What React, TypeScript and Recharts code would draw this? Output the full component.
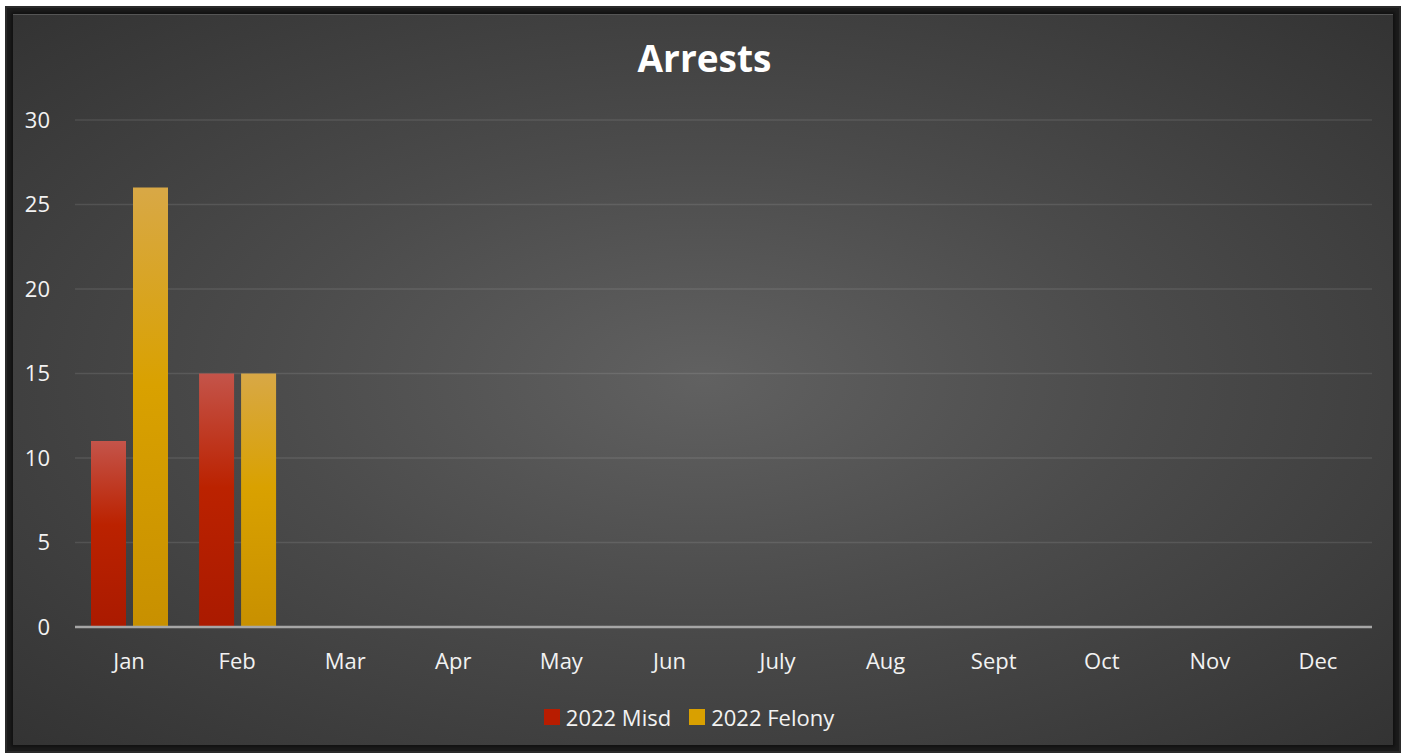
import { BarChart, Bar, XAxis, YAxis, CartesianGrid, Legend } from 'recharts';

const MONTHS = ['Jan', 'Feb', 'Mar', 'Apr', 'May', 'Jun', 'July', 'Aug', 'Sept', 'Oct', 'Nov', 'Dec'];
const MISD = [11, 15, 0, 0, 0, 0, 0, 0, 0, 0, 0, 0];
const FELONY = [26, 15, 0, 0, 0, 0, 0, 0, 0, 0, 0, 0];
const Y_TICKS = [0, 5, 10, 15, 20, 25, 30];

const data = MONTHS.map((m, i) => ({ month: m, misd: MISD[i], felony: FELONY[i] }));

const FONT = '"Open Sans", "Liberation Sans", sans-serif';

const LEGEND_ITEMS = [
  { label: '2022 Misd', color: '#b81c00' },
  { label: '2022 Felony', color: '#d9a000' },
];

function LegendBox() {
  return (
    <div style={{ display: 'flex', justifyContent: 'center', alignItems: 'center', gap: 18, fontFamily: FONT, fontSize: 22, color: '#f2f2f2', height: 53, paddingLeft: 6 }}>
      {LEGEND_ITEMS.map((it) => (
        <span key={it.label} style={{ display: 'flex', alignItems: 'center', gap: 6 }}>
          <span style={{ width: 16, height: 16, background: it.color, display: 'inline-block' }} />
          {it.label}
        </span>
      ))}
    </div>
  );
}

export default function App() {
  return (
    <div style={{ position: 'absolute', left: 0, top: 0, width: 1409, height: 753, background: '#fff', overflow: 'hidden' }}>
      {/* frame */}
      <div
        style={{
          position: 'absolute',
          left: 5,
          top: 6,
          width: 1396,
          height: 747,
          background: '#1c1c1c',
          boxShadow: 'inset 0 0 0 2px #2a2a2a',
        }}
      />
      <div
        style={{
          position: 'absolute',
          left: 13,
          top: 14,
          width: 1380,
          height: 731,
          background: 'radial-gradient(ellipse at 50% 50%, #616161 0%, #4b4b4b 45%, #333 100%)',
          boxShadow: '0 0 3px 2px #111, inset 0 1px 0 #555',
        }}
      />
      <div
        style={{
          position: 'absolute',
          left: 0,
          top: 32,
          width: 1409,
          textAlign: 'center',
          fontFamily: FONT,
          fontWeight: 700,
          fontSize: 37,
          color: '#fff',
        }}
      >
        Arrests
      </div>
      <div style={{ position: 'absolute', left: 0, top: 0 }}>
        <BarChart
          width={1409}
          height={753}
          data={data}
          margin={{ top: 120, right: 37, left: 0, bottom: 10 }}
          barCategoryGap={16}
          barGap={7}
        >
          <defs>
            <linearGradient id="misdGrad" x1="0" y1="0" x2="0" y2="1">
              <stop offset="0%" stopColor="#c4544a" />
              <stop offset="45%" stopColor="#bb2200" />
              <stop offset="100%" stopColor="#aa1a00" />
            </linearGradient>
            <linearGradient id="felGrad" x1="0" y1="0" x2="0" y2="1">
              <stop offset="0%" stopColor="#d8a846" />
              <stop offset="45%" stopColor="#d9a100" />
              <stop offset="100%" stopColor="#c89000" />
            </linearGradient>
          </defs>
          <CartesianGrid vertical={false} stroke="#ffffff" strokeOpacity={0.1} strokeWidth={1.5} />
          <XAxis
            dataKey="month"
            height={63}
            tickLine={false}
            axisLine={{ stroke: '#a6a6a6', strokeWidth: 2.5 }}
            tickMargin={20}
            tick={{ fill: '#f2f2f2', fontSize: 22, fontFamily: FONT }}
          />
          <YAxis
            width={75}
            domain={[0, 30]}
            ticks={Y_TICKS}
            interval={0}
            tickLine={false}
            axisLine={false}
            tickMargin={19}
            tick={{ fill: '#f2f2f2', fontSize: 22, fontFamily: FONT }}
          />
          <Legend verticalAlign="bottom" height={53} content={() => <LegendBox />} />
          <Bar dataKey="misd" name="2022 Misd" fill="url(#misdGrad)" isAnimationActive={false} />
          <Bar dataKey="felony" name="2022 Felony" fill="url(#felGrad)" isAnimationActive={false} />
        </BarChart>
      </div>
    </div>
  );
}
